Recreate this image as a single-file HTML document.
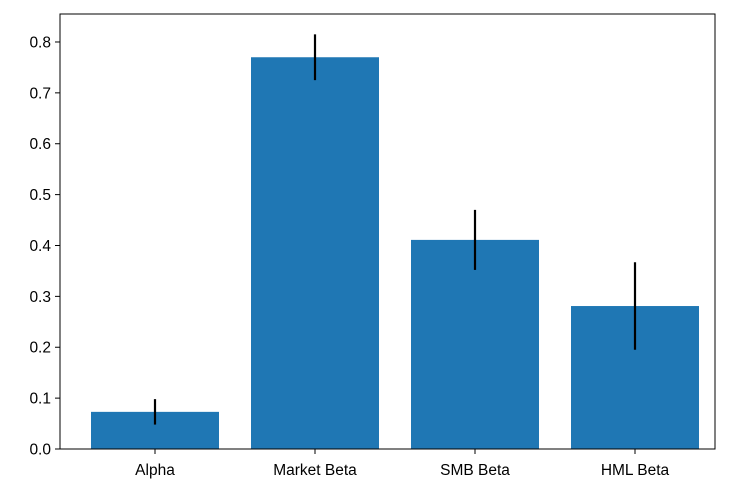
<!DOCTYPE html>
<html><head><meta charset="utf-8"><style>
body{margin:0;background:#fff;}
svg{display:block;font-family:"Liberation Sans","DejaVu Sans",sans-serif;}
</style></head><body>
<svg id="chart" width="744" height="496" viewBox="0 0 744 496"></svg>
<script>
const categories=["Alpha","Market Beta","SMB Beta","HML Beta"];
const values=[0.073,0.770,0.411,0.281];
const errors=[0.025,0.045,0.059,0.086];
const yTicks=[0.0,0.1,0.2,0.3,0.4,0.5,0.6,0.7,0.8];
const yTickLabels=["0.0","0.1","0.2","0.3","0.4","0.5","0.6","0.7","0.8"];

const L=60,R=715,T=14,B=449;
const yMin=0,yMax=0.855;
const xMin=-0.59375,xMax=3.5;
function y(v){return B-(v-yMin)/(yMax-yMin)*(B-T);}
function x(i){return L+(i-xMin)/(xMax-xMin)*(R-L);}
const bw=0.8;
const svg=document.getElementById('chart');
const NS="http://www.w3.org/2000/svg";
function mk(t,a){const e=document.createElementNS(NS,t);for(const k in a)e.setAttribute(k,a[k]);svg.appendChild(e);return e;}

categories.forEach((c,i)=>{
  const r=mk('rect',{x:x(i-bw/2),y:y(values[i]),width:x(i+bw/2)-x(i-bw/2),height:y(0)-y(values[i]),fill:'#1f77b4'});
  
  
  const e=mk('line',{x1:x(i),x2:x(i),y1:y(values[i]-errors[i]),y2:y(values[i]+errors[i]),stroke:'#000','stroke-width':2.2});
  
  
  const tk=mk('line',{x1:x(i),x2:x(i),y1:B,y2:B+5,stroke:'#000','stroke-width':1});
  
  
  const t=mk('text',{x:x(i),y:B+26,'text-anchor':'middle','font-size':'15.5px',fill:'#000'});
  t.textContent=c;
  
  
});
yTicks.forEach((v,i)=>{
  const tk=mk('line',{x1:L-5,x2:L,y1:y(v),y2:y(v),stroke:'#000','stroke-width':1});
  
  
  const t=mk('text',{x:L-9,y:y(v)+5.5,'text-anchor':'end','font-size':'15.5px',fill:'#000'});
  t.textContent=yTickLabels[i];
  
  
});
const f=mk('rect',{x:L,y:T,width:R-L,height:B-T,fill:'none',stroke:'#000','stroke-width':1});


</script>
</body></html>
